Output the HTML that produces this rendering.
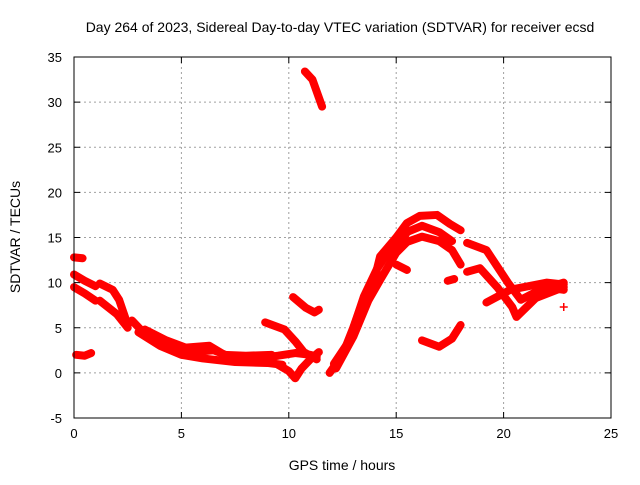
<!DOCTYPE html>
<html><head><meta charset="utf-8"><style>
body{margin:0;background:#fff}
svg text{font-family:"Liberation Sans",sans-serif;fill:#000}
</style></head><body>
<svg id="chart" width="640" height="480">
<text x="340" y="32" font-size="14" text-anchor="middle">Day 264 of 2023, Sidereal Day-to-day VTEC variation (SDTVAR) for receiver ecsd</text>
<text x="342" y="470" font-size="14" text-anchor="middle">GPS time / hours</text>
<text x="20" y="237" font-size="14" text-anchor="middle" transform="rotate(-90 20 237)">SDTVAR / TECUs</text>
<g id="grid"></g><g id="ticks"></g><g id="series"></g><g id="extra"></g>
<rect x="74" y="57" width="537" height="361" fill="none" stroke="#000"/>
</svg>
<script>
const xTicks=[0,5,10,15,20,25];
const yTicks=[-5,0,5,10,15,20,25,30,35];
const tracks=[
[[0,12.8],[0.4,12.7]],
[[0,10.9],[0.5,10.2],[1.0,9.6]],
[[0,9.5],[0.5,8.8],[1.0,8.0]],
[[0.1,2.0],[0.5,1.9],[0.8,2.2]],
[[1.2,9.9],[1.8,9.2],[2.1,8.1],[2.5,5.3]],
[[1.2,8.0],[2.0,6.5],[2.5,5.0]],
[[2.7,5.8],[3.5,3.8],[4.5,2.8],[5.5,2.3],[6.5,2.5],[7.5,1.6],[8.5,1.6],[9.5,1.9],[10.3,2.2],[11.0,2.0],[11.3,1.8]],
[[3.0,4.5],[4.0,3.0],[5.0,2.0],[6.0,1.6],[7.5,1.2],[9.0,1.1],[9.7,0.9]],
[[3.3,4.8],[4.3,3.6],[5.2,2.8],[6.3,3.0],[7.0,2.0],[8.0,1.9],[9.2,2.0]],
[[8.9,5.6],[9.8,4.8],[10.3,3.5],[10.7,2.3],[11.3,1.5]],
[[9.5,0.9],[10.0,0.2],[10.3,-0.6],[10.6,0.5],[11.0,1.5],[11.4,2.3]],
[[10.2,8.4],[10.8,7.2],[11.2,6.7],[11.4,7.0]],
[[10.75,33.4],[11.1,32.5],[11.4,30.5],[11.55,29.5]],
[[11.9,0],[12.5,2],[13.0,5],[13.3,7],[14.0,10.5],[14.25,12.9],[15.0,15.0],[15.5,16.6],[16.1,17.4],[16.9,17.5],[17.5,16.5],[18.0,15.8]],
[[12.2,0.5],[13.0,4],[13.7,8],[14.3,10.5],[15.0,13.3],[15.5,14.5],[16.2,15.1],[17.0,14.6],[17.6,13.6],[18.0,12.0]],
[[12.1,1.0],[12.8,3.5],[13.5,8.5],[14.1,11.5],[14.8,14.0],[15.3,15.5]],
[[14.8,12.5],[15.5,15.6],[16.2,16.3],[17.0,15.6],[17.6,14.6]],
[[15.0,12.0],[15.5,11.4]],
[[17.4,10.2],[17.7,10.4]],
[[18.3,14.4],[19.2,13.6],[20.2,10.0],[20.8,8.1],[21.7,9.2],[22.8,10.0]],
[[18.3,11.2],[18.9,11.6],[19.7,9.5],[20.4,7.3],[20.6,6.2],[21.5,8.3],[22.8,9.5]],
[[19.2,7.8],[20.3,9.2],[22.0,10.0],[22.8,9.8]],
[[21.5,9.0],[22.2,9.4],[22.8,9.2]],
[[16.2,3.6],[17.0,2.9],[17.6,3.8],[18.0,5.3]]
];
const isolated=[[22.8,7.3]];
const X0=74,X1=611,Y0=418,Y1=57;
const xs=v=>X0+(v-0)/25*(X1-X0);
const ys=v=>Y0-(v+5)/40*(Y0-Y1);
const NS='http://www.w3.org/2000/svg';
const g=document.getElementById('grid'),t=document.getElementById('ticks'),s=document.getElementById('series'),ex=document.getElementById('extra');
function mk(tag,at,par){const e=document.createElementNS(NS,tag);for(const k in at)e.setAttribute(k,at[k]);par.appendChild(e);return e;}
xTicks.forEach(v=>{const x=xs(v);
 if(v>0&&v<25){const l=mk('line',{x1:x,x2:x,y1:Y1,y2:Y0,stroke:'#a0a0a0','stroke-dasharray':'2,3'},g);
 
 }
 mk('line',{x1:x,x2:x,y1:Y0,y2:Y0-6,stroke:'#000'},t);mk('line',{x1:x,x2:x,y1:Y1,y2:Y1+6,stroke:'#000'},t);
 const tx=mk('text',{x:x,y:Y0+20,'font-size':13,'text-anchor':'middle'},t);tx.textContent=v;
 
 });
yTicks.forEach(v=>{const y=ys(v);
 if(v>-5&&v<35){const l=mk('line',{x1:X0,x2:X1,y1:y,y2:y,stroke:'#a0a0a0','stroke-dasharray':'2,3'},g);
 
 }
 mk('line',{x1:X0,x2:X0+6,y1:y,y2:y,stroke:'#000'},t);mk('line',{x1:X1,x2:X1-6,y1:y,y2:y,stroke:'#000'},t);
 const tx=mk('text',{x:X0-12,y:y+5,'font-size':13,'text-anchor':'end'},t);tx.textContent=v;
 
 });
tracks.forEach(tr=>{const p=mk('polyline',{points:tr.map(d=>xs(d[0])+','+ys(d[1])).join(' '),fill:'none',stroke:'#ff0000','stroke-width':8,'stroke-linejoin':'round','stroke-linecap':'round'},s);
 
 });
isolated.forEach(d=>{const x=xs(d[0]),y=ys(d[1]);
 const p=mk('path',{d:`M${x-4},${y}H${x+4}M${x},${y-4}V${y+4}`,stroke:'#ff0000','stroke-width':1.5},ex);
 
 });
</script>
</body></html>
